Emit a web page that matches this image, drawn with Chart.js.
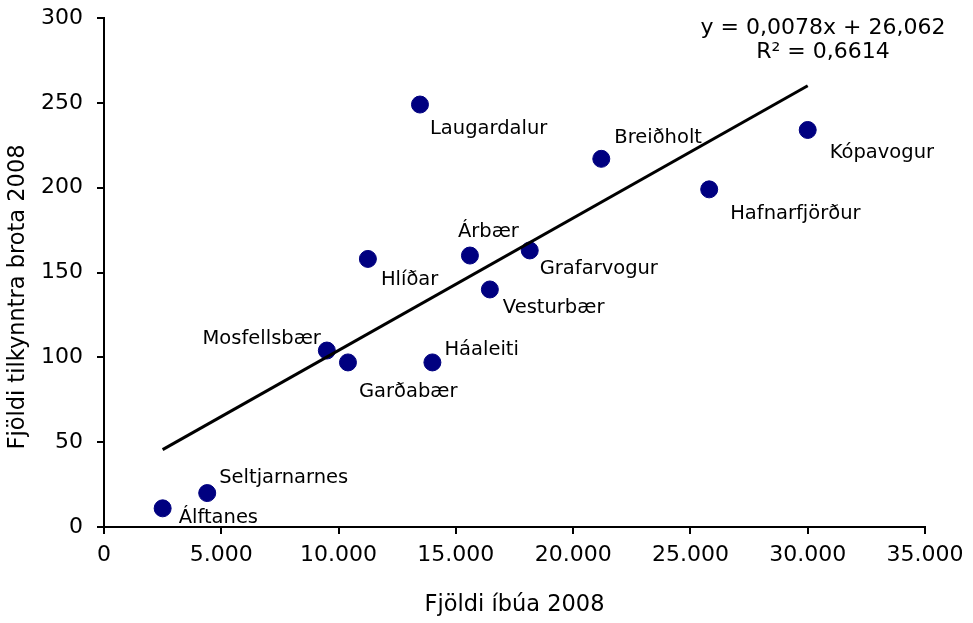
<!DOCTYPE html>
<html>
<head>
<meta charset="utf-8">
<script src="https://cdn.jsdelivr.net/npm/chart.js@4/dist/chart.umd.min.js"></script>
<style>
  html, body { margin: 0; padding: 0; background: #fff; }
  #wrap { width: 973px; height: 623px; }
</style>
</head>
<body>
<div id="wrap"><canvas id="chart" width="973" height="623"></canvas></div>
<script>
// data
const places = ["Álftanes", "Seltjarnarnes", "Mosfellsbær", "Garðabær", "Hlíðar", "Laugardalur", "Háaleiti",
                "Árbær", "Vesturbær", "Grafarvogur", "Breiðholt", "Hafnarfjörður", "Kópavogur"];
const residents = [2500, 4400, 9500, 10400, 11250, 13470, 14000, 15600, 16450, 18150, 21200, 25800, 30000];
const offences  = [11, 20, 104, 97, 158, 249, 97, 160, 140, 163, 217, 199, 234];
const trendX = [2500, 30000];
const trendY = [45.6, 260.1];
const equation = ["y = 0,0078x + 26,062", "R² = 0,6614"];
const yTitle = "Fjöldi tilkynntra brota 2008";

// label placement next to each point: [dx, dy, align]
const labelPos = [
    [16, 10, "left"], [12, -15, "left"], [-6, -12, "right"], [11, 30, "left"], [13, 21, "left"],
    [10, 24, "left"], [12, -12, "left"], [-12, -24, "left"], [13, 18, "left"], [10, 18, "left"],
    [13, -21, "left"], [21, 25, "left"], [22, 23, "left"]
];

const font = "DejaVu Sans, Verdana, sans-serif";

const pointLabels = {
    id: "pointLabels",
    afterDatasetsDraw(chart) {
        const ctx = chart.ctx;
        const meta = chart.getDatasetMeta(1);
        ctx.save();
        ctx.font = "19.5px " + font;
        ctx.fillStyle = "#000";
        ctx.textBaseline = "middle";
        meta.data.forEach((pt, i) => {
            const p = labelPos[i];
            ctx.textAlign = p[2];
            ctx.fillText(places[i], pt.x + p[0], pt.y + p[1]);
        });
        // trendline equation
        ctx.font = "22px " + font;
        ctx.textAlign = "center";
        ctx.fillText(equation[0], 823, 28);
        ctx.fillText(equation[1], 823, 52);
        // y axis title, centred on the whole chart height like the original
        ctx.font = "22.5px " + font;
        ctx.translate(18, 297);
        ctx.rotate(-Math.PI / 2);
        ctx.fillText(yTitle, 0, 0);
        ctx.restore();
    }
};

new Chart(document.getElementById("chart"), {
    type: "scatter",
    data: {
        datasets: [
            {
                type: "line",
                data: trendX.map((x, i) => ({x: x, y: trendY[i]})),
                borderColor: "#000",
                borderWidth: 3,
                pointRadius: 0,
                fill: false
            },
            {
                data: residents.map((x, i) => ({x: x, y: offences[i]})),
                backgroundColor: "#000080",
                borderColor: "#000080",
                pointRadius: 8.5,
                pointHoverRadius: 8.5
            }
        ]
    },
    options: {
        responsive: false,
        animation: false,
        layout: { padding: { left: 0, top: 18, right: 48, bottom: 0 } },
        plugins: { legend: { display: false }, tooltip: { enabled: false } },
        scales: {
            x: {
                type: "linear",
                min: 0, max: 35000,
                afterFit: (s) => { s.height = 96; s.paddingLeft = 0; s.paddingRight = 0; },
                ticks: {
                    stepSize: 5000,
                    color: "#000",
                    font: { family: font, size: 22 },
                    padding: 8,
                    maxRotation: 0,
                    callback: (v) => v.toString().replace(/\B(?=(\d{3})+(?!\d))/g, ".")
                },
                grid: { drawOnChartArea: false, tickLength: 7, color: "#000", lineWidth: 2 },
                border: { color: "#000", width: 2 },
                title: {
                    display: true, text: "Fjöldi íbúa 2008", color: "#000",
                    font: { family: font, size: 22.5, lineHeight: 1.6 }, padding: 0
                }
            },
            y: {
                min: 0, max: 300,
                afterFit: (s) => { s.width = 104; s.paddingTop = 0; s.paddingBottom = 0; },
                ticks: {
                    stepSize: 50,
                    color: "#000",
                    font: { family: font, size: 22 },
                    padding: 14
                },
                grid: { drawOnChartArea: false, tickLength: 7, color: "#000", lineWidth: 2 },
                border: { color: "#000", width: 2 }
            }
        }
    },
    plugins: [pointLabels]
});
</script>
</body>
</html>
